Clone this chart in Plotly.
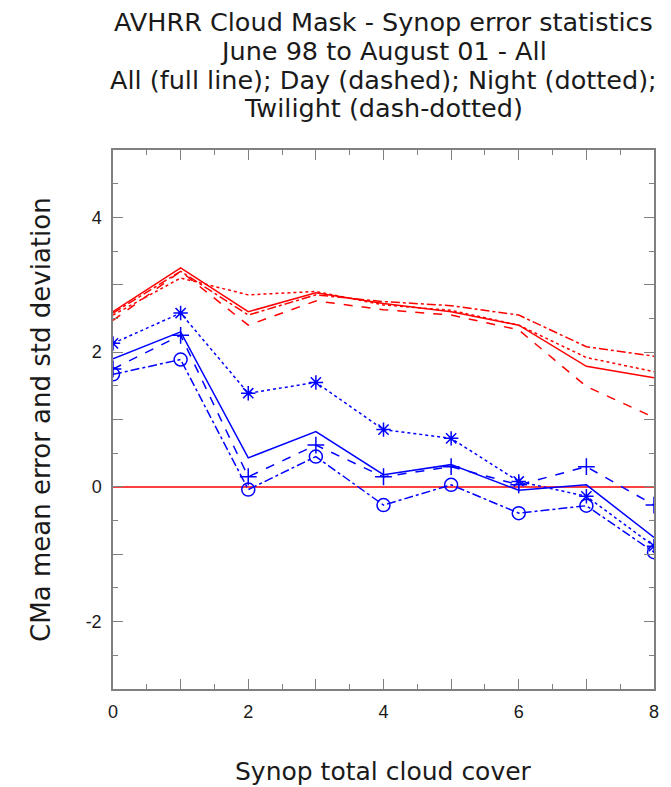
import plotly.graph_objects as go

# ---- data ----
cloud_cover = [0, 1, 2, 3, 4, 5, 6, 7, 8]

std_all = [2.60, 3.25, 2.60, 2.88, 2.72, 2.60, 2.40, 1.79, 1.62]
std_day = [2.47, 3.20, 2.40, 2.76, 2.63, 2.55, 2.33, 1.49, 1.03]
std_night = [2.55, 3.10, 2.85, 2.90, 2.70, 2.62, 2.40, 1.92, 1.71]
std_twilight = [2.58, 3.20, 2.55, 2.85, 2.75, 2.69, 2.55, 2.08, 1.94]

mean_all = [1.90, 2.30, 0.43, 0.82, 0.18, 0.33, -0.05, 0.03, -0.75]
mean_day = [1.75, 2.25, 0.15, 0.62, 0.15, 0.30, 0.03, 0.30, -0.27]
mean_night = [2.13, 2.58, 1.39, 1.55, 0.85, 0.72, 0.08, -0.14, -0.88]
mean_twilight = [1.67, 1.89, -0.04, 0.45, -0.27, 0.03, -0.39, -0.28, -0.97]

zero_x = [0, 8]
zero_y = [0, 0]

x_tick_vals = [0, 1, 2, 3, 4, 5, 6, 7, 8]
x_tick_text = ["0", "", "2", "", "4", "", "6", "", "8"]
y_tick_vals = [-3, -2, -1, 0, 1, 2, 3, 4, 5]
y_tick_text = ["", "-2", "", "0", "", "2", "", "4", ""]

title_lines = [
    "AVHRR Cloud Mask - Synop error statistics",
    "June 98 to August 01 - All",
    "All (full line); Day (dashed); Night (dotted);",
    "Twilight (dash-dotted)",
]
x_title = "Synop total cloud cover"
y_title = "CMa mean error and std deviation"

RED = "#ff0000"
BLUE = "#0000ff"
FONT = "DejaVu Sans, Liberation Sans, sans-serif"
TICKFONT = "Liberation Sans, Arial, sans-serif"
TXT = "#1a1a1a"
AXC = "#808080"

fig = go.Figure()

# std deviation (red)
for ys, dash in [(std_all, "solid"), (std_day, "dash"), (std_night, "dot"), (std_twilight, "dashdot")]:
    fig.add_trace(go.Scatter(x=cloud_cover, y=ys, mode="lines",
                             line=dict(color=RED, width=1.5, dash=dash), showlegend=False))

# zero line
fig.add_trace(go.Scatter(x=zero_x, y=zero_y, mode="lines",
                         line=dict(color=RED, width=1.5), showlegend=False))

# mean error (blue)
fig.add_trace(go.Scatter(x=cloud_cover, y=mean_all, mode="lines",
                         line=dict(color=BLUE, width=1.5, dash="solid"), showlegend=False))
fig.add_trace(go.Scatter(x=cloud_cover, y=mean_day, mode="lines+markers",
                         line=dict(color=BLUE, width=1.5, dash="dash"),
                         marker=dict(symbol="cross-thin-open", size=12, color=BLUE,
                                     line=dict(color=BLUE, width=1.5)),
                         showlegend=False))
fig.add_trace(go.Scatter(x=cloud_cover, y=mean_night, mode="lines+markers",
                         line=dict(color=BLUE, width=1.5, dash="dot"),
                         marker=dict(symbol="asterisk-open", size=12, color=BLUE,
                                     line=dict(color=BLUE, width=1.5)),
                         showlegend=False))
fig.add_trace(go.Scatter(x=cloud_cover, y=mean_twilight, mode="lines+markers",
                         line=dict(color=BLUE, width=1.5, dash="dashdot"),
                         marker=dict(symbol="circle-open", size=13, color=BLUE,
                                     line=dict(color=BLUE, width=1.5)),
                         showlegend=False))

axis_common = dict(
    showgrid=False, zeroline=False, showline=True, linecolor=AXC, linewidth=1.5,
    mirror="ticks", ticks="inside", ticklen=10, tickwidth=1, tickcolor=AXC,
    tickfont=dict(family=TICKFONT, size=18, color=TXT),
    minor=dict(dtick=0.5, ticks="inside", ticklen=5, tickcolor=AXC, tickwidth=1),
)

fig.update_xaxes(range=[0, 8], tickmode="array", tickvals=x_tick_vals, ticktext=x_tick_text,
                 ticklabelstandoff=6, **axis_common)
fig.update_yaxes(range=[-3, 5], tickmode="array", tickvals=y_tick_vals, ticktext=y_tick_text,
                 ticklabelstandoff=6, **axis_common)

PLOT_H = 787 - 150 - 98
PLOT_W = 671 - 113 - 14

annotations = []
title_y = [22, 51, 80, 108]
for txt, yp in zip(title_lines, title_y):
    annotations.append(dict(text=txt, xref="x", x=4, yref="paper",
                            y=1 + (150 - yp) / PLOT_H, showarrow=False,
                            xanchor="center", yanchor="middle",
                            font=dict(family=FONT, size=25.5, color=TXT)))
annotations.append(dict(text=x_title, xref="x", x=4, yref="paper", y=(689 - 771) / PLOT_H,
                        showarrow=False, xanchor="center", yanchor="middle",
                        font=dict(family=FONT, size=25, color=TXT)))
annotations.append(dict(text=y_title, xref="paper", x=(40 - 113) / PLOT_W, yref="y", y=1,
                        showarrow=False, xanchor="center", yanchor="middle", textangle=-90,
                        font=dict(family=FONT, size=26, color=TXT)))

fig.update_layout(
    width=671, height=787,
    margin=dict(l=113, r=14, t=150, b=98),
    plot_bgcolor="white", paper_bgcolor="white",
    annotations=annotations,
)

fig.write_html("out.html", config={"displayModeBar": False},
               post_script="document.body.style.margin='0px';")
